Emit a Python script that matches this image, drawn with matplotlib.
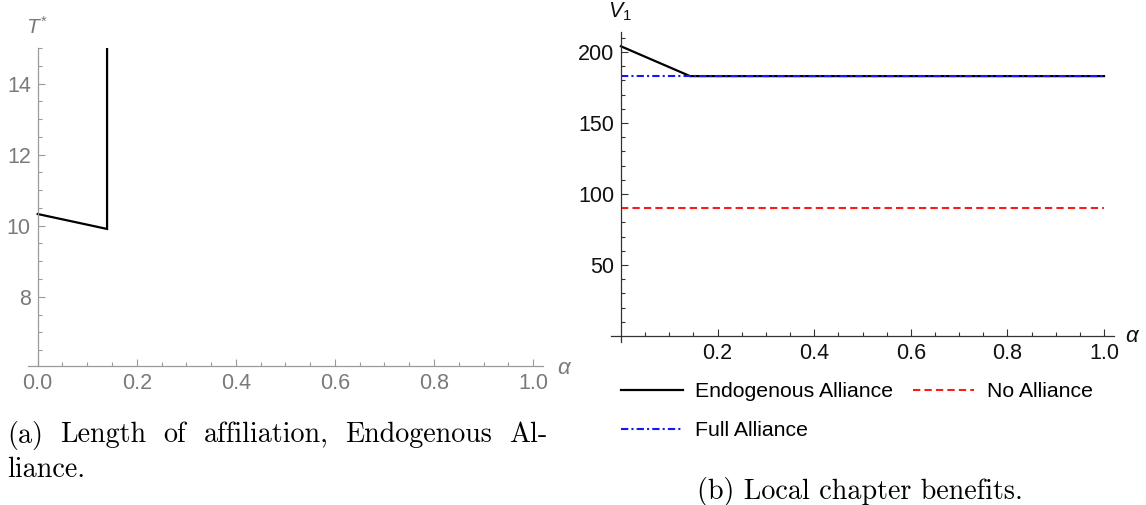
import matplotlib
matplotlib.use("Agg")
import matplotlib.pyplot as plt
from matplotlib.lines import Line2D
import numpy as np

# data
alpha_t = [0.0, 0.14, 0.14]
t_star = [10.33, 9.91, 15.0]

alpha_v = [0.0, 0.143, 1.0]
v_endog = [204, 183, 183]
alpha_flat = [0.0, 1.0]
v_none = [90, 90]
v_full = [183, 183]

left_xticks = [0.0, 0.2, 0.4, 0.6, 0.8, 1.0]
left_yticks = [8, 10, 12, 14]
right_xticks = [0.2, 0.4, 0.6, 0.8, 1.0]
right_yticks = [50, 100, 150, 200]
legend_labels = ["Endogenous Alliance", "Full Alliance", "No Alliance"]

plt.rcParams["font.family"] = ["Liberation Sans", "DejaVu Sans"]
plt.rcParams["mathtext.fontset"] = "custom"
plt.rcParams["mathtext.rm"] = "Liberation Sans"
plt.rcParams["mathtext.it"] = "Liberation Sans:italic"

W, H = 1146, 505
fig = plt.figure(figsize=(W / 100, H / 100), dpi=100)
renderer = fig.canvas.get_renderer()


def px_box(l, r, t, b):
    return [l / W, 1 - b / H, (r - l) / W, (b - t) / H]


def mathematica_axes(ax, color, tcolor, fs, yspine):
    for s in ["top", "right"]:
        ax.spines[s].set_visible(False)
    ax.spines["left"].set_position(("data", 0))
    ax.spines["bottom"].set_position(("data", yspine))
    for s in ["left", "bottom"]:
        ax.spines[s].set_color(color)
        ax.spines[s].set_linewidth(0.9)
    ax.tick_params(which="both", direction="in", color=color, labelcolor=tcolor,
                   labelsize=fs, width=0.8)
    ax.tick_params(which="major", length=5)
    ax.tick_params(which="minor", length=3)
    ax.tick_params(axis="x", pad=5)
    ax.tick_params(axis="y", pad=5)


# (a) length of affiliation
gray_ax = "#9a9a9a"
gray_tx = "#7a7a7a"
ax1 = fig.add_axes(px_box(27.8, 543, 48.2, 366))
ax1.plot(alpha_t, t_star, color="black", lw=1.6, solid_joinstyle="miter")
ax1.set_xlim(-0.02, 1.02)
ax1.set_ylim(6.05, 15)
ax1.set_xticks(left_xticks)
ax1.set_xticklabels([f"{v:.1f}" for v in left_xticks])
ax1.set_yticks(left_yticks)
ax1.set_xticks(np.arange(0.05, 1.0, 0.05), minor=True)
ax1.set_yticks(np.arange(6.5, 15.01, 0.5), minor=True)
mathematica_axes(ax1, gray_ax, gray_tx, 15.5, 6.05)
fig.text(37 / W, 1 - 27 / H, r"$T^{*}$", color=gray_tx, fontsize=15, ha="center", va="center")
fig.text(565 / W, 1 - 368 / H, r"$\alpha$", color=gray_tx, fontsize=16, ha="center", va="center")

# (b) local chapter benefits
ax2 = fig.add_axes(px_box(611.3, 1113.7, 32.1, 341.7))
ax2.plot(alpha_flat, v_none, color="#ff1a1a", lw=1.5, dashes=(3.5, 2.0))
ax2.plot(alpha_v, v_endog, color="black", lw=1.6)
ax2.plot(alpha_flat, v_full, color="#1515ff", lw=1.5, dashes=(3.5, 1.5, 1.0, 1.5))
ax2.set_xlim(-0.02, 1.02)
ax2.set_ylim(-4, 214)
ax2.set_xticks(right_xticks)
ax2.set_xticklabels([f"{v:.1f}" for v in right_xticks])
ax2.set_yticks(right_yticks)
ax2.set_xticks(np.arange(0.05, 1.0, 0.05), minor=True)
ax2.set_yticks(np.arange(10, 211, 10), minor=True)
mathematica_axes(ax2, "#333333", "#111111", 15.5, 0)
fig.text(620 / W, 1 - 12 / H, r"$V_{1}$", color="#111111", fontsize=15.5, ha="center", va="center")
fig.text(1133 / W, 1 - 337 / H, r"$\alpha$", color="#111111", fontsize=16, ha="center", va="center")

handles = [Line2D([], [], color="black", lw=1.6),
           Line2D([], [], color="#1515ff", lw=1.5, dashes=(3.5, 1.5, 1.0, 1.5)),
           Line2D([], [], color="#ff1a1a", lw=1.5, dashes=(3.5, 2.0))]
fig.legend(handles, legend_labels, ncol=2, frameon=False, fontsize=15.3,
           loc="upper left", bbox_to_anchor=(621 / W, 1 - 382 / H),
           borderpad=0, borderaxespad=0, handlelength=2.9, handletextpad=0.6,
           columnspacing=0.9, labelspacing=0.95)

# captions: size the serif font so that caption (b) spans ~325 px as in the picture
cap_b = fig.text(860 / W, 1 - 491 / H, "(b) Local chapter benefits.", family="cmr10",
                 fontsize=17.5, ha="center", va="center")
cap_fs = 17.5 * 325 / cap_b.get_window_extent(renderer).width
cap_b.set_fontsize(cap_fs)

words = ["(a)", "Length", "of", "affiliation,", "Endogenous", "Al-"]
x0, x1, yline = 7, 548, 435
texts = [fig.text(0, 1 - yline / H, w, family="cmr10", fontsize=cap_fs, va="center")
         for w in words]
widths = [t.get_window_extent(renderer).width for t in texts]
gap = (x1 - x0 - sum(widths)) / (len(words) - 1)
x = x0
for t, w in zip(texts, widths):
    t.set_x(x / W)
    x += w + gap
fig.text(x0 / W, 1 - 470 / H, "liance.", family="cmr10", fontsize=cap_fs, va="center")

fig.savefig("out.png", dpi=100)
